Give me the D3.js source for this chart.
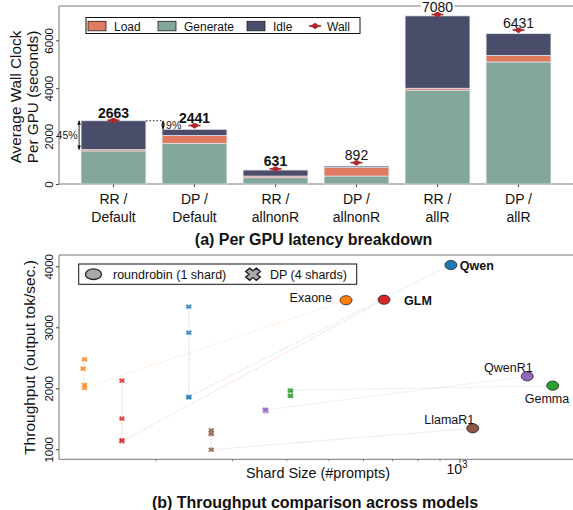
<!DOCTYPE html>
<html><head><meta charset="utf-8">
<script src="https://cdn.jsdelivr.net/npm/d3@7"></script>
<style>body{margin:0;background:#fff} svg{display:block;font-family:"Liberation Sans",Arial,Helvetica,sans-serif}</style>
</head><body><svg id="c" width="573" height="510"></svg>
<script>
// ---------- data: (a) per GPU latency breakdown ----------
const categories = [["RR /","Default"],["DP /","Default"],["RR /","allnonR"],["DP /","allnonR"],["RR /","allR"],["DP /","allR"]];
const generateVals = [1380, 1700, 262, 333, 3920, 5096];
const loadVals = [60, 330, 70, 354, 80, 278];
const idleVals = [1200, 250, 250, 60, 3020, 904];
const wallVals = [2663, 2441, 631, 892, 7080, 6431];
const yTicksA = [0, 2000, 4000, 6000];
const legendA = ["Load", "Generate", "Idle", "Wall"];

// ---------- data: (b) throughput comparison ----------
const models = ["Qwen", "Exaone", "GLM", "QwenR1", "Gemma", "LlamaR1"];
const rrShard = [953, 547, 669, 1428, 1634, 1070];
const rrThroughput = [4021, 3443, 3452, 2197, 2043, 1344];
const dpShard = [[238,238,238,238],[137,137,136,137],[167,167,167,167],[357,358,357,357],[407,408,407,408],[268,268,268,268]];
const dpThroughput = [[1862,1850,2911,3338],[2005,2054,2321,2475],[1131,1148,1502,2125],[1644,1625,1635,1650],[1965,1958,1880,1874],[993,1250,1265,1311]];
const yTicksB = [1000, 2000, 3000, 4000];
const xMinorTicksB = [200, 300, 400, 500, 600, 700, 800, 900];
const xMajorTicksB = [1000];
const legendB = ["roundrobin (1 shard)", "DP (4 shards)"];

// ---------- styles ----------
const colLoad = "#E07B5F", colGen = "#84A79C", colIdle = "#4A4D69", colWall = "#B0262B";
const modelColors = ["#1f77b4", "#ff7f0e", "#d62728", "#9467bd", "#2ca02c", "#8c564b"];
const spineCol = "#777";

const svg = d3.select("#c");

// =============== Panel (a) ===============
const A = {left: 59, right: 574, top: 6, bottom: 184};
const xA = d3.scaleLinear().domain([-0.69, 5.69]).range([57.6, 574.4]);
const yA = d3.scaleLinear().domain([0, 7434]).range([A.bottom, A.top]);
const bw = xA(0.4) - xA(-0.4);

const gA = svg.append("g");
gA.append("line").attr("x1", A.left).attr("x2", A.left).attr("y1", A.top).attr("y2", A.bottom).attr("stroke", spineCol);
gA.append("line").attr("x1", A.left).attr("x2", 600).attr("y1", A.top).attr("y2", A.top).attr("stroke", spineCol);
gA.append("line").attr("x1", A.left).attr("x2", 600).attr("y1", A.bottom).attr("y2", A.bottom).attr("stroke", spineCol);

const yAxA = d3.axisLeft(yA).tickValues(yTicksA).tickSize(3).tickFormat(d3.format("d"));
const gyA = gA.append("g").attr("transform", `translate(${A.left},0)`).call(yAxA);
gyA.select(".domain").remove();
gyA.selectAll(".tick line").attr("stroke", "#444");
gyA.selectAll(".tick text").attr("font-size", 11.5).attr("fill", "#111")
  .attr("text-anchor", "middle").attr("x", 0).attr("dy", 0)
  .attr("transform", "translate(-6,0) rotate(-90)").attr("y", 0);

categories.forEach((c, i) => {
  const x = xA(i);
  gA.append("line").attr("x1", x).attr("x2", x).attr("y1", A.bottom).attr("y2", A.bottom + 3).attr("stroke", "#444");
  gA.append("text").attr("x", x).attr("y", 204).attr("text-anchor", "middle").attr("font-size", 14).attr("fill", "#111").text(c[0]);
  gA.append("text").attr("x", x).attr("y", 221.5).attr("text-anchor", "middle").attr("font-size", 14).attr("fill", "#111").text(c[1]);
});

const stackData = categories.map((c, i) => ({i, Generate: generateVals[i], Load: loadVals[i], Idle: idleVals[i]}));
const stack = d3.stack().keys(["Generate", "Load", "Idle"])(stackData);
const colMap = {Generate: colGen, Load: colLoad, Idle: colIdle};
stack.forEach(layer => {
  gA.append("g").selectAll("rect").data(layer).join("rect")
    .attr("x", d => xA(d.data.i) - bw / 2)
    .attr("width", bw)
    .attr("y", d => yA(d[1]))
    .attr("height", d => yA(d[0]) - yA(d[1]))
    .attr("fill", colMap[layer.key])
    .attr("stroke", "#e4e6ee").attr("stroke-width", 0.7);
});

function wallMarker(g, x, y, s) {
  g.append("line").attr("x1", x - 6 * s).attr("x2", x + 6 * s).attr("y1", y).attr("y2", y).attr("stroke", colWall).attr("stroke-width", 1.6);
  g.append("path").attr("d", `M${x - 4.5 * s},${y} L${x},${y - 3.2 * s} L${x + 4.5 * s},${y} L${x},${y + 3.2 * s} Z`).attr("fill", colWall);
}
wallVals.forEach((w, i) => {
  const x = xA(i), y = yA(w);
  wallMarker(gA, x, y, 1);
  const t = gA.append("text").attr("x", x).attr("y", y - 2.5).attr("text-anchor", "middle")
    .attr("font-size", 14).attr("font-weight", i < 3 ? "bold" : "normal").attr("fill", "#111").text(w);
  const bb = t.node().getBBox();
  gA.insert("rect", () => t.node()).attr("x", bb.x - 1).attr("y", bb.y + 2).attr("width", bb.width + 2).attr("height", bb.height - 5).attr("fill", "#fff");
});

const tot = i => generateVals[i] + loadVals[i] + idleVals[i];
const defs = svg.append("defs");
defs.append("marker").attr("id", "ah").attr("viewBox", "0 0 10 10").attr("refX", 9).attr("refY", 5)
  .attr("markerWidth", 5).attr("markerHeight", 5).attr("orient", "auto-start-reverse")
  .append("path").attr("d", "M0,1 L10,5 L0,9 Z").attr("fill", "#111");
const ax45 = xA(0) - bw / 2 - 2;
gA.append("line").attr("x1", ax45).attr("x2", ax45).attr("y1", yA(tot(0))).attr("y2", yA(generateVals[0] + loadVals[0]))
  .attr("stroke", "#111").attr("stroke-width", 0.9).attr("marker-start", "url(#ah)").attr("marker-end", "url(#ah)");
gA.append("text").attr("x", ax45 - 1.5).attr("y", (yA(tot(0)) + yA(generateVals[0] + loadVals[0])) / 2 + 4)
  .attr("text-anchor", "end").attr("font-size", 10.5).attr("fill", "#222").text("45%");
gA.append("line").attr("x1", xA(0) + bw / 2).attr("x2", xA(1) - bw / 2 + 1).attr("y1", yA(tot(0))).attr("y2", yA(tot(0)))
  .attr("stroke", "#111").attr("stroke-width", 1).attr("stroke-dasharray", "1.5,2");
const ax9 = xA(1) - bw / 2 + 1;
gA.append("line").attr("x1", ax9).attr("x2", ax9).attr("y1", yA(tot(0))).attr("y2", yA(tot(1)))
  .attr("stroke", "#111").attr("stroke-width", 0.9).attr("marker-start", "url(#ah)").attr("marker-end", "url(#ah)");
gA.append("text").attr("x", ax9 + 3).attr("y", (yA(tot(0)) + yA(tot(1))) / 2 + 4)
  .attr("font-size", 10.5).attr("fill", "#222").text("9%");

const lgA = gA.append("g");
lgA.append("rect").attr("x", 86).attr("y", 17.5).attr("width", 274).attr("height", 16).attr("fill", "#fff").attr("stroke", "#111").attr("stroke-width", 1);
const lgPos = [88, 158, 247, 315];
[colLoad, colGen, colIdle].forEach((c, k) => {
  lgA.append("rect").attr("x", lgPos[k]).attr("y", 21.3).attr("width", 18).attr("height", 9.5).attr("fill", c).attr("stroke", "#222").attr("stroke-width", 0.8);
  lgA.append("text").attr("x", lgPos[k] + 26).attr("y", 30.5).attr("font-size", 12).attr("fill", "#111").text(legendA[k]);
});
wallMarker(lgA, lgPos[3], 26, 1);
lgA.append("text").attr("x", lgPos[3] + 12).attr("y", 30.5).attr("font-size", 12).attr("fill", "#111").text(legendA[3]);

svg.append("text").attr("x", 313.5).attr("y", 245).attr("text-anchor", "middle").attr("font-size", 16).attr("font-weight", "bold").attr("fill", "#111").text("(a) Per GPU latency breakdown");

// =============== Panel (b) ===============
const B = {left: 59, right: 580, top: 255, bottom: 459.3};
const xB = d3.scaleLog().domain([119.7, 1888]).range([B.left, B.right]);
const yB = d3.scaleLinear().domain([836, 4185]).range([B.bottom, B.top]);
const gB = svg.append("g");
gB.append("line").attr("x1", B.left).attr("x2", B.left).attr("y1", B.top).attr("y2", B.bottom).attr("stroke", spineCol);
gB.append("line").attr("x1", B.left).attr("x2", 600).attr("y1", B.top).attr("y2", B.top).attr("stroke", spineCol);
gB.append("line").attr("x1", B.left).attr("x2", 600).attr("y1", B.bottom).attr("y2", B.bottom).attr("stroke", spineCol);

const gyB = gB.append("g").attr("transform", `translate(${B.left},0)`).call(d3.axisLeft(yB).tickValues(yTicksB).tickSize(3).tickFormat(d3.format("d")));
gyB.select(".domain").remove();
gyB.selectAll(".tick line").attr("stroke", "#444");
gyB.selectAll(".tick text").attr("font-size", 11.5).attr("fill", "#111")
  .attr("text-anchor", "middle").attr("x", 0).attr("y", 0).attr("dy", 0)
  .attr("transform", "translate(-6,0) rotate(-90)");

xMinorTicksB.forEach(v => gB.append("line").attr("x1", xB(v)).attr("x2", xB(v)).attr("y1", B.bottom).attr("y2", B.bottom + 2).attr("stroke", "#555").attr("stroke-width", 0.7));
xMajorTicksB.forEach(v => {
  gB.append("line").attr("x1", xB(v)).attr("x2", xB(v)).attr("y1", B.bottom).attr("y2", B.bottom + 3.5).attr("stroke", "#444");
  const t = gB.append("text").attr("x", xB(v) - 3).attr("y", 474).attr("text-anchor", "middle").attr("font-size", 14).attr("fill", "#111");
  t.append("tspan").text("10");
  t.append("tspan").attr("dy", -6).attr("font-size", 10).text(String(Math.round(Math.log10(v))));
});

svg.append("text").attr("x", 318).attr("y", 477.5).attr("text-anchor", "middle").attr("font-size", 14.4).attr("fill", "#111").text("Shard Size (#prompts)");
svg.append("text").attr("transform", "translate(34.5,357.5) rotate(-90)").attr("text-anchor", "middle").attr("font-size", 15.5).attr("fill", "#111").text("Throughput (output tok/sec.)");
svg.append("text").attr("transform", "translate(20.5,97) rotate(-90)").attr("text-anchor", "middle").attr("font-size", 15.3).attr("fill", "#111").text("Average Wall Clock");
svg.append("text").attr("transform", "translate(37.5,97) rotate(-90)").attr("text-anchor", "middle").attr("font-size", 15.3).attr("fill", "#111").text("Per GPU (seconds)");

function xPath(cx, cy, w, h) {
  const t = 0.19, pts = [[-t,-0.5],[t,-0.5],[t,-t],[0.5,-t],[0.5,t],[t,t],[t,0.5],[-t,0.5],[-t,t],[-0.5,t],[-0.5,-t],[-t,-t]];
  return "M" + pts.map(([a, b]) => [(a - b) * w / 1.414 + cx, (a + b) * h / 1.414 + cy].map(v => v.toFixed(2)).join(",")).join("L") + "Z";
}

models.forEach((m, i) => {
  const col = modelColors[i];
  const pts = dpShard[i].map((s, k) => [xB(s), yB(dpThroughput[i][k])]).sort((a, b) => b[1] - a[1]);
  gB.append("path").attr("d", d3.line()(pts)).attr("fill", "none").attr("stroke", col).attr("stroke-width", 1)
    .attr("stroke-dasharray", "1,1.5").attr("opacity", 0.4);
  gB.append("line").attr("x1", xB(dpShard[i][0])).attr("y1", yB(dpThroughput[i][0]))
    .attr("x2", xB(rrShard[i])).attr("y2", yB(rrThroughput[i]))
    .attr("stroke", col).attr("stroke-width", 1).attr("stroke-dasharray", "1,1.5").attr("opacity", 0.28);
});
models.forEach((m, i) => {
  dpShard[i].forEach((s, k) => {
    gB.append("path").attr("d", xPath(xB(s), yB(dpThroughput[i][k]), 6.8, 5.4))
      .attr("fill", modelColors[i]).attr("fill-opacity", 0.85).attr("stroke", "#fff").attr("stroke-width", 0.35);
  });
});
const labelCfg = [
  {dx: 9, dy: 4.5, anchor: "start", weight: "bold"},
  {dx: -14, dy: 2, anchor: "end", weight: "normal"},
  {dx: 20, dy: 5, anchor: "start", weight: "bold"},
  {dx: 5.5, dy: -4, anchor: "end", weight: "normal"},
  {dx: -28, dy: 17, anchor: "start", weight: "normal"},
  {dx: 1.5, dy: -4.5, anchor: "end", weight: "normal"}
];
models.forEach((m, i) => {
  const x = xB(rrShard[i]), y = yB(rrThroughput[i]);
  gB.append("ellipse").attr("cx", x).attr("cy", y).attr("rx", 6).attr("ry", 4.6)
    .attr("fill", modelColors[i]).attr("stroke", "#222").attr("stroke-width", 0.8);
  const c = labelCfg[i];
  gB.append("text").attr("x", x + c.dx).attr("y", y + c.dy).attr("text-anchor", c.anchor)
    .attr("font-size", 12.5).attr("font-weight", c.weight).attr("fill", "#111").text(m);
});

const lgB = gB.append("g");
lgB.append("rect").attr("x", 78.7).attr("y", 264).attr("width", 278).attr("height", 20.3).attr("fill", "#fff").attr("stroke", "#111").attr("stroke-width", 1);
lgB.append("ellipse").attr("cx", 93.5).attr("cy", 274.2).attr("rx", 8).attr("ry", 5.3).attr("fill", "#a9a9a9").attr("stroke", "#222").attr("stroke-width", 1.3);
lgB.append("text").attr("x", 113).attr("y", 278.7).attr("font-size", 12.5).attr("fill", "#111").text(legendB[0]);
lgB.append("path").attr("d", xPath(253, 274.2, 15, 12.5)).attr("fill", "#a9a9a9").attr("stroke", "#222").attr("stroke-width", 1.4);
lgB.append("text").attr("x", 270).attr("y", 278.7).attr("font-size", 12.5).attr("fill", "#111").text(legendB[1]);

svg.append("text").attr("x", 315).attr("y", 507.5).attr("text-anchor", "middle").attr("font-size", 16).attr("font-weight", "bold").attr("fill", "#111").text("(b) Throughput comparison across models");
</script></body></html>
